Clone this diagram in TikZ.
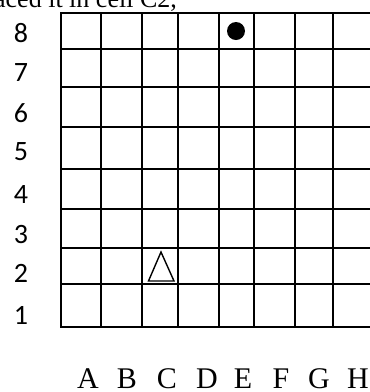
\documentclass[tikz,border=0pt]{standalone}
\usepackage{fontspec}
\setmainfont{Liberation Serif}
\newfontfamily\rowfont{Carlito}
\begin{document}
\begin{tikzpicture}[x=1pt,y=-1pt,
  gridline/.style={line width=1.8pt,line cap=rect},
  rowlab/.style={font=\rowfont\fontsize{28}{30}\selectfont,inner sep=0pt},
  collab/.style={font=\fontsize{30}{32}\selectfont,inner sep=0pt,anchor=base},
  toptext/.style={font=\fontsize{26}{28}\selectfont,inner sep=0pt,anchor=base east}]
\path[use as bounding box] (0,0) rectangle (370,392);
\begin{scope}
\clip (0,0) rectangle (370,392);
\foreach \x in {61,101,142,178,219,254,295,333,372}
  \draw[gridline] (\x,13) -- (\x,327);
\foreach \y in {13,49,87,127,169,209,248,284,327}
  \draw[gridline] (61,\y) -- (372,\y);
\node[toptext] (top) at (177,7) {placed it in cell C2,};
\end{scope}
\foreach \n/\y in {8/33,7/73,6/113,5/152,4/195,3/235,2/273,1/315}
  \node[rowlab] (r\n) at (21,\y) {\n};
\foreach \l/\x in {A/88,B/127,C/167,D/207,E/243,F/281,G/319,H/358}
  \node[collab] (c\l) at (\x,388) {\l};
\fill (236,31) circle (9) coordinate (dot);
\draw[line width=1.4pt,line join=miter] (161,252) -- (148.5,281) -- (174,281) -- cycle;
\end{tikzpicture}
\end{document}
